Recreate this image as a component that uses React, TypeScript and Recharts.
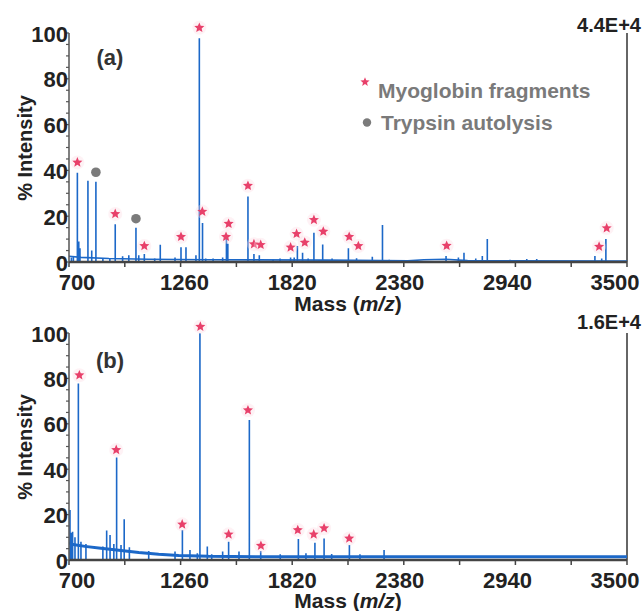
import React from 'react';
import { ComposedChart, Line, XAxis, YAxis, ReferenceDot, ReferenceLine } from 'recharts';

// tick values
const X_TICKS = [700, 980, 1260, 1540, 1820, 2100, 2380, 2660, 2940, 3220, 3500];
const Y_TICKS = [0, 5, 10, 15, 20, 25, 30, 35, 40, 45, 50, 55, 60, 65, 70, 75, 80, 85, 90, 95, 100];

// (a) peaks: m/z and % intensity
const aMass = [712, 722, 742, 749, 755, 795, 814, 835, 870, 905, 932, 969, 1000, 1036, 1050, 1078, 1130, 1158, 1232, 1262, 1287, 1337, 1354, 1370, 1386, 1423, 1471, 1490, 1497, 1598, 1628, 1655, 1724, 1759, 1812, 1830, 1846, 1872, 1900, 1929, 1973, 2020, 2102, 2143, 2222, 2273, 2307, 2592, 2654, 2682, 2741, 2774, 2799, 2913, 2997, 3047, 3339, 3373, 3394];
const aInt = [2, 2.5, 39, 9, 6, 35.5, 5, 35, 1.5, 1.5, 16.5, 2.5, 3, 15, 3, 3.5, 1.5, 7.5, 2, 6.4, 6.4, 3, 97.7, 17, 1.5, 1.5, 2, 10, 8, 28.6, 3.5, 3, 1, 1.5, 2, 2, 7, 4, 1.5, 12.8, 7.6, 1.5, 6, 1.6, 2.3, 16.2, 1, 2.6, 2, 4, 1.5, 2.6, 10, 1, 1.3, 1.3, 2.6, 1.5, 10];
const aBaseMass = [700, 760, 900, 1100, 1400, 2000, 2400, 2480, 2590, 2700, 3500];
const aBaseInt = [2.5, 2, 1.5, 1.2, 1, 0.8, 0.5, 1, 1.2, 0.6, 0.4];
const aStarMass = [742, 932, 1078, 1262, 1354, 1369, 1488, 1501, 1598, 1628, 1662, 1812, 1842, 1883, 1929, 1976, 2106, 2152, 2595, 3360, 3398];
const aStarInt = [43.5, 21, 7, 11, 102.3, 22, 11, 16.7, 33.3, 7.8, 7.5, 6.4, 12.3, 8.5, 18.4, 13.3, 11, 7, 7.1, 6.7, 14.8];
const aDotMass = [835, 1036];
const aDotInt = [39.2, 18.9];

// (b) peaks
const bMass = [705, 712, 718, 730, 747, 760, 785, 870, 889, 906, 925, 939, 961, 977, 1003, 1100, 1232, 1269, 1307, 1344, 1357, 1394, 1416, 1471, 1501, 1553, 1605, 1662, 1760, 1851, 1889, 1934, 1980, 2018, 2107, 2160, 2281];
const bInt = [22, 12, 12.5, 10, 77.8, 8, 7, 6, 13, 11, 7, 45.2, 6.6, 18, 5.6, 4, 3.7, 13.2, 4.4, 3, 99.9, 5.9, 2.5, 3.7, 8, 3.7, 61.7, 4, 2.5, 9.3, 3, 7.6, 9.5, 2.6, 6.6, 2.5, 4.4];
const bBaseMass = [700, 720, 780, 860, 950, 1050, 1150, 1250, 1400, 1700, 2500, 3500];
const bBaseInt = [7.5, 6.8, 6, 5.2, 4.3, 3.3, 2.5, 2, 1.6, 1.4, 1.4, 1.4];
const bStarMass = [752, 937, 1268, 1359, 1501, 1598, 1663, 1848, 1928, 1980, 2106];
const bStarInt = [81.4, 48.5, 15.7, 102.8, 11.3, 66, 6.3, 13.2, 11.3, 14, 9.5];

const BLUE = '#1c68c8';
const PINK = '#e8406a';
const FONT = '"Liberation Sans", Arial, sans-serif';

const starPoints = (cx: number, cy: number, ro: number, ri: number) => {
  const pts: string[] = [];
  for (let i = 0; i < 10; i++) {
    const r = i % 2 === 0 ? ro : ri;
    const a = -Math.PI / 2 + (i * Math.PI) / 5;
    pts.push(`${cx + r * Math.cos(a)},${cy + r * Math.sin(a)}`);
  }
  return pts.join(' ');
};

const Star = ({ cx, cy }: any) => (
  <g>
    <circle cx={cx} cy={cy} r={7} fill="#fbd9e2" opacity={0.35} />
    <polygon points={starPoints(cx, cy, 5.3, 2.4)} fill={PINK} />
  </g>
);

const Dot = ({ cx, cy }: any) => <circle cx={cx} cy={cy} r={4.8} fill="#7b7b7b" />;

const XTick = ({ x, y, payload }: any) => {
  const v = payload.value;
  const major = (v - 700) % 560 === 0;
  const off = 8 - (20 * (v - 700)) / 2800;
  return (
    <g>
      <line x1={x} x2={x} y1={y} y2={y + 5} stroke="#444" strokeWidth={1.5} />
      {major && (
        <text x={x + off} y={y + 20} textAnchor="middle" dominantBaseline="central"
          fontFamily={FONT} fontWeight="bold" fontSize={22} fill="#222">{v}</text>
      )}
    </g>
  );
};

const YTick = ({ x, y, payload }: any) => {
  const v = payload.value;
  const major = v % 20 === 0;
  return (
    <g>
      <line x1={x - (major ? 4 : 3)} x2={x} y1={y} y2={y} stroke="#555" strokeWidth={1.2} />
      {major && (
        <text x={x - 1} y={y + 1} textAnchor="end" dominantBaseline="central"
          fontFamily={FONT} fontWeight="bold" fontSize={22} fill="#222">{v}</text>
      )}
    </g>
  );
};

const sticks = (mass: number[], inten: number[]) =>
  mass.flatMap((m, i) => [{ m, v: 0 }, { m, v: inten[i] }, { m, v: 0 }]);
const pairs = (mass: number[], inten: number[]) => mass.map((m, i) => ({ m, v: inten[i] }));

interface SpectrumProps {
  height: number;
  axisHeight: number;
  mass: number[];
  inten: number[];
  baseMass: number[];
  baseInt: number[];
  baseWidth: number;
  starMass: number[];
  starInt: number[];
  dotMass?: number[];
  dotInt?: number[];
}

const Spectrum: React.FC<SpectrumProps> = (p) => (
  <ComposedChart width={643} height={p.height} margin={{ top: 33, right: 16, bottom: 0, left: 0 }}>
    <XAxis dataKey="m" type="number" domain={[700, 3500]} ticks={X_TICKS} allowDataOverflow
      height={p.axisHeight} tick={<XTick />} tickLine={false} tickSize={0} tickMargin={0}
      axisLine={{ stroke: '#444', strokeWidth: 2.5 }} interval={0} />
    <YAxis type="number" domain={[0, 100]} ticks={Y_TICKS} allowDataOverflow width={69}
      tick={<YTick />} tickLine={false} tickSize={0} tickMargin={0}
      axisLine={{ stroke: '#555', strokeWidth: 1.5 }} interval={0} />
    <ReferenceLine x={3500} stroke="#333" strokeWidth={1.5} ifOverflow="visible" />
    <Line data={pairs(p.baseMass, p.baseInt)} dataKey="v" type="linear" stroke={BLUE}
      strokeWidth={p.baseWidth} dot={false} isAnimationActive={false} />
    <Line data={sticks(p.mass, p.inten)} dataKey="v" type="linear" stroke={BLUE}
      strokeWidth={1.6} dot={false} isAnimationActive={false} />
    {p.starMass.map((m, i) => (
      <ReferenceDot key={`s${i}`} x={m} y={p.starInt[i]} r={5} ifOverflow="visible" shape={Star} />
    ))}
    {(p.dotMass || []).map((m, i) => (
      <ReferenceDot key={`d${i}`} x={m} y={p.dotInt![i]} r={5} ifOverflow="visible" shape={Dot} />
    ))}
  </ComposedChart>
);

const txt = { fontFamily: FONT, fontWeight: 'bold' as const };

export default function App() {
  return (
    <div style={{ position: 'absolute', left: 0, top: 0, width: 643, height: 611, background: '#fff', overflow: 'hidden' }}>
      <div style={{ position: 'absolute', left: 0, top: 0 }}>
        <Spectrum height={310} axisHeight={48} mass={aMass} inten={aInt} baseMass={aBaseMass} baseInt={aBaseInt}
          baseWidth={1.6} starMass={aStarMass} starInt={aStarInt} dotMass={aDotMass} dotInt={aDotInt} />
      </div>
      <div style={{ position: 'absolute', left: 0, top: 300 }}>
        <Spectrum height={311} axisHeight={51} mass={bMass} inten={bInt} baseMass={bBaseMass} baseInt={bBaseInt}
          baseWidth={3} starMass={bStarMass} starInt={bStarInt} />
      </div>
      <svg width={643} height={611} style={{ position: 'absolute', left: 0, top: 0, pointerEvents: 'none' }}>
        <text x={110} y={57} textAnchor="middle" dominantBaseline="central" fontSize={22} fill="#333" {...txt}>(a)</text>
        <text x={110} y={360} textAnchor="middle" dominantBaseline="central" fontSize={22} fill="#333" {...txt}>(b)</text>
        <text x={641} y={25} textAnchor="end" dominantBaseline="central" fontSize={20} fill="#222" {...txt}>4.4E+4</text>
        <text x={641} y={322} textAnchor="end" dominantBaseline="central" fontSize={20} fill="#222" {...txt}>1.6E+4</text>
        <text transform="translate(25,148) rotate(-90)" textAnchor="middle" dominantBaseline="central" fontSize={20} fill="#222" {...txt}>% Intensity</text>
        <text transform="translate(25,447) rotate(-90)" textAnchor="middle" dominantBaseline="central" fontSize={20} fill="#222" {...txt}>% Intensity</text>
        <text x={348} y={303} textAnchor="middle" dominantBaseline="central" fontSize={21} fill="#222" {...txt}>
          Mass (<tspan fontStyle="italic">m/z</tspan>)
        </text>
        <text x={348} y={600} textAnchor="middle" dominantBaseline="central" fontSize={21} fill="#222" {...txt}>
          Mass (<tspan fontStyle="italic">m/z</tspan>)
        </text>
        <polygon points={starPoints(365, 82, 4.8, 2.1)} fill={PINK} />
        <text x={378} y={90} dominantBaseline="central" fontSize={21} fill="#7a7a7a" {...txt}>Myoglobin fragments</text>
        <circle cx={367} cy={122.5} r={4.2} fill="#7b7b7b" />
        <text x={381} y={122} dominantBaseline="central" fontSize={21} fill="#7a7a7a" {...txt}>Trypsin autolysis</text>
      </svg>
    </div>
  );
}
